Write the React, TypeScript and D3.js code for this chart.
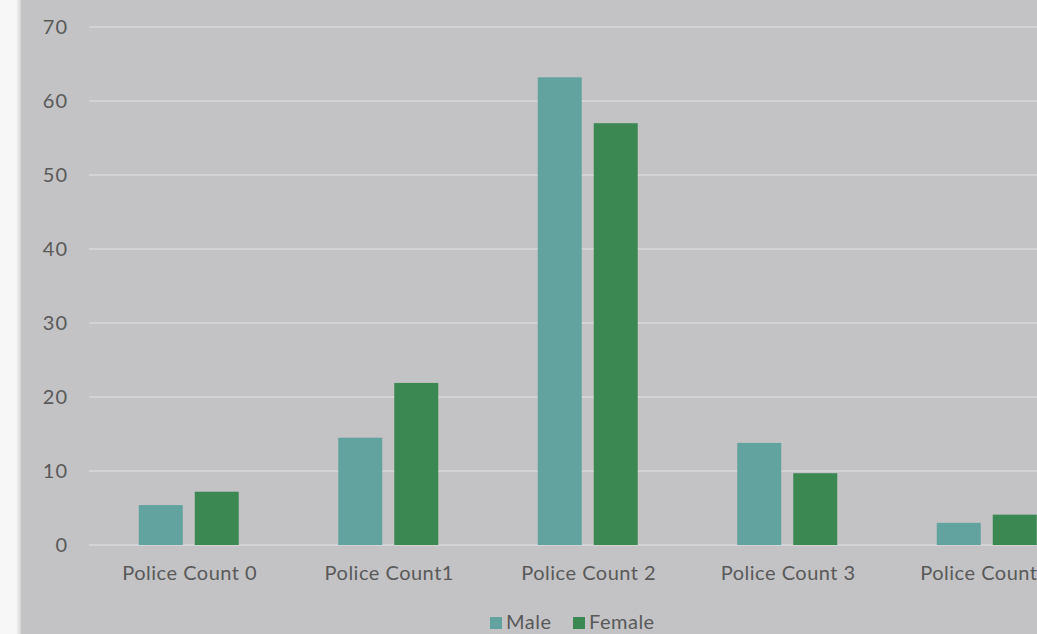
import React from "react";
import * as d3 from "d3";

const categories = ["Police Count 0", "Police Count1", "Police Count 2", "Police Count 3", "Police Count 4"];
const maleValues = [5.4, 14.5, 63.2, 13.8, 3.0];
const femaleValues = [7.2, 21.9, 57.0, 9.7, 4.1];
const yTicks = [0, 10, 20, 30, 40, 50, 60, 70];
const seriesNames = ["Male", "Female"];
const seriesColors = ["#62A39F", "#3C8853"];

export default function App() {
  const W = 1037, H = 634;
  const x = d3.scaleBand<string>().domain(categories).range([89, 89 + 5 * 199.5]);
  const y = d3.scaleLinear().domain([0, 70]).range([545, 27]);
  const font = "Lato, 'Noto Sans', sans-serif";
  const textColor = "#595959";
  const barW = 44;
  const series = [maleValues, femaleValues];
  return (
    <svg width={W} height={H} style={{ position: "fixed", left: 0, top: 0 }} fontFamily={font}>
      <defs>
        <linearGradient id="sh" x1="0" x2="1" y1="0" y2="0">
          <stop offset="0" stopColor="#f7f7f7" />
          <stop offset="1" stopColor="#d4d4d4" />
        </linearGradient>
      </defs>
      <rect x={0} y={0} width={W} height={H} fill="#f7f7f7" />
      <rect x={16} y={0} width={5} height={H} fill="url(#sh)" />
      <rect x={21} y={0} width={W - 21} height={H} fill="#c3c3c5" />
      {yTicks.map((t) => (
        <g key={t}>
          <line x1={89} x2={W} y1={y(t)} y2={y(t)} stroke="#d9d9d9" strokeWidth={1.5} />
          <text x={68} y={y(t) + 7} textAnchor="end" fontSize={20} letterSpacing={1} fill={textColor}>{t}</text>
        </g>
      ))}
      {categories.map((c, i) => {
        const cx = (x(c) as number) + x.bandwidth() / 2;
        return (
          <g key={c}>
            {series.map((vals, s) => (
              <rect key={s}
                x={s === 0 ? cx - 6 - barW : cx + 6}
                y={y(vals[i])}
                width={barW}
                height={y(0) - y(vals[i])}
                fill={seriesColors[s]} />
            ))}
            <text x={cx + 1} y={580} textAnchor="middle" fontSize={20} letterSpacing={0.5} fill={textColor}>{c}</text>
          </g>
        );
      })}
      <g>
        <rect x={490} y={617} width={12} height={12} fill={seriesColors[0]} />
        <text x={506} y={629} fontSize={20} letterSpacing={0.5} fill={textColor}>{seriesNames[0]}</text>
        <rect x={573} y={617} width={12} height={12} fill={seriesColors[1]} />
        <text x={589} y={629} fontSize={20} letterSpacing={0.5} fill={textColor}>{seriesNames[1]}</text>
      </g>
    </svg>
  );
}
